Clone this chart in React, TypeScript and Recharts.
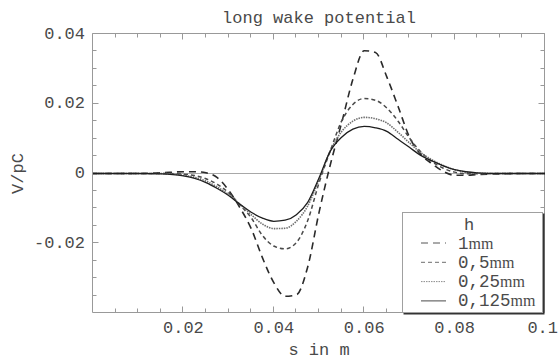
import React from 'react';
import { LineChart, Line, XAxis, YAxis, ReferenceLine, ReferenceArea, Label } from 'recharts';

const sValues = [0, 0.005, 0.01, 0.015, 0.02, 0.0225, 0.025, 0.0275, 0.03, 0.0325, 0.035, 0.0375, 0.04, 0.0425, 0.045, 0.0475, 0.05, 0.0525, 0.055, 0.0575, 0.06, 0.0625, 0.065, 0.0675, 0.07, 0.0725, 0.075, 0.0775, 0.08, 0.0825, 0.085, 0.09, 0.095, 0.1];
const h1mm = [0, 0, 0, 0.0002, 0.0005, 0.0005, 0.0002, -0.0012, -0.0048, -0.0098, -0.0158, -0.0242, -0.0313, -0.0352, -0.0348, -0.0268, -0.0112, 0.0025, 0.0145, 0.0270, 0.0352, 0.0347, 0.0277, 0.0192, 0.0105, 0.0055, 0.0028, 0.0006, -0.0005, -0.0005, -0.0003, -0.0001, 0, 0];
const h05mm = [0, 0, 0, 0, -0.0002, -0.0006, -0.0015, -0.0031, -0.0055, -0.0090, -0.0127, -0.0178, -0.0208, -0.0216, -0.0198, -0.0135, -0.0027, 0.0065, 0.0150, 0.0198, 0.0215, 0.0210, 0.0188, 0.0150, 0.0102, 0.0062, 0.0034, 0.0015, 0.0004, -0.0001, -0.0001, 0, 0, 0];
const h025mm = [0, 0, 0, 0, -0.0005, -0.0011, -0.0022, -0.0039, -0.0060, -0.0088, -0.0118, -0.0145, -0.0158, -0.0157, -0.0137, -0.0093, -0.0018, 0.0065, 0.0120, 0.0150, 0.0161, 0.0157, 0.0145, 0.0118, 0.0088, 0.0060, 0.0039, 0.0023, 0.0011, 0.0004, 0.0001, 0, 0, 0];
const h0125mm = [0, 0, 0, -0.0001, -0.0007, -0.0014, -0.0026, -0.0043, -0.0063, -0.0088, -0.0111, -0.0128, -0.0137, -0.0134, -0.0118, -0.0083, -0.0013, 0.0064, 0.0104, 0.0127, 0.0135, 0.0131, 0.0121, 0.0098, 0.0075, 0.0052, 0.0036, 0.0022, 0.0011, 0.0005, 0.0002, 0, 0, 0];

const seriesKeys = ['h1', 'h05', 'h025', 'h0125'];
const seriesNumbers = ['1', '0,5', '0,25', '0,125'];
const seriesUnit = 'mm';
const legendTitle = 'h';

const xDomain = [0, 0.1];
const yDomain = [-0.04, 0.04];
const xMajorTicks = [0.02, 0.04, 0.06, 0.08, 0.1];
const xTickLabels = ['0.02', '0.04', '0.06', '0.08', '0.1'];
const xAllTicks = [0.005, 0.01, 0.015, 0.02, 0.025, 0.03, 0.035, 0.04, 0.045, 0.05, 0.055, 0.06, 0.065, 0.07, 0.075, 0.08, 0.085, 0.09, 0.095, 0.1];
const yMajorTicks = [-0.02, 0, 0.02, 0.04];
const yTickLabels = ['-0.02', '0', '0.02', '0.04'];
const yAllTicks = [-0.035, -0.03, -0.025, -0.02, -0.015, -0.01, -0.005, 0, 0.005, 0.01, 0.015, 0.02, 0.025, 0.03, 0.035, 0.04];

const titleText = 'long wake potential';
const xLabelText = 's in m';
const yLabelText = 'V/pC';

const data = sValues.map((s, i) => ({
  s,
  h1: h1mm[i],
  h05: h05mm[i],
  h025: h025mm[i],
  h0125: h0125mm[i],
}));

const styles = [
  { stroke: '#2a2a2a', dash: '7 5', width: 1.6 },
  { stroke: '#4a4a4a', dash: '4 3', width: 1.5 },
  { stroke: '#707070', dash: '1.5 1', width: 1.6 },
  { stroke: '#1e1e1e', dash: undefined as string | undefined, width: 1.3 },
];

const MONO = '"Liberation Mono", "DejaVu Sans Mono", monospace';
const SERIF = '"Liberation Serif", "DejaVu Serif", serif';
const TXT = '#4a4a4a';
const FRAME = '#999999';
const FS = 17;
const CHART_W = 559;

const isMajor = (v: number, majors: number[]) => majors.some((m) => Math.abs(m - v) < 1e-9);
const findLabel = (v: number, majors: number[], labels: string[]) => {
  const i = majors.findIndex((m) => Math.abs(m - v) < 1e-9);
  return i >= 0 ? labels[i] : null;
};
const crisp = (v: number) => Math.round(v) + 0.5;

const LeftTick = (props: any) => {
  const { x, y, payload } = props;
  const lab = findLabel(payload.value, yMajorTicks, yTickLabels);
  return lab !== null ? (
    <text x={x - 8} y={y} textAnchor="end" dominantBaseline="central" fontFamily={MONO} fontSize={FS} fill={TXT}>
      {lab}
    </text>
  ) : (
    <g />
  );
};

const BottomTick = (props: any) => {
  const { x, y, payload } = props;
  const lab = findLabel(payload.value, xMajorTicks, xTickLabels);
  if (lab === null) return <g />;
  const halfW = (lab.length * FS * 0.6) / 2;
  const tx = Math.min(x, CHART_W - halfW - 1);
  return (
    <text x={tx} y={y + 15} textAnchor="middle" dominantBaseline="central" fontFamily={MONO} fontSize={FS} fill={TXT}>
      {lab}
    </text>
  );
};

// Frame, ticks on all four sides and the title, drawn from the plot area's viewBox
const FrameContent = (p: any) => {
  const vb = p.viewBox;
  if (!vb) return null;
  const left = vb.x;
  const top = vb.y;
  const w = vb.width;
  const h = vb.height;
  const sx = (v: number) => left + ((v - xDomain[0]) / (xDomain[1] - xDomain[0])) * w;
  const sy = (v: number) => top + ((yDomain[1] - v) / (yDomain[1] - yDomain[0])) * h;
  const L = crisp(left) - 1;
  const R = crisp(left + w) - 1;
  const T = crisp(top) - 1;
  const B = crisp(top + h) - 1;
  const marks: any[] = [];
  xAllTicks.forEach((v) => {
    const len = isMajor(v, xMajorTicks) ? 6 : 4;
    const x = crisp(sx(v)) - 1;
    marks.push(<line key={'b' + v} x1={x} y1={B} x2={x} y2={B - len} stroke={FRAME} strokeWidth={1} />);
    marks.push(<line key={'t' + v} x1={x} y1={T} x2={x} y2={T + len} stroke={FRAME} strokeWidth={1} />);
  });
  yAllTicks.forEach((v) => {
    const len = isMajor(v, yMajorTicks) ? 6 : 4;
    const y = crisp(sy(v)) - 1;
    marks.push(<line key={'l' + v} x1={L} y1={y} x2={L + len} y2={y} stroke={FRAME} strokeWidth={1} />);
    marks.push(<line key={'r' + v} x1={R} y1={y} x2={R - len} y2={y} stroke={FRAME} strokeWidth={1} />);
  });
  return (
    <g>
      <path d={`M${L},${T}H${R}V${B}H${L}Z`} fill="none" stroke={FRAME} strokeWidth={1} />
      {marks}
      <text x={left + w / 2} y={top - 16} textAnchor="middle" dominantBaseline="central" fontFamily={MONO} fontSize={FS} fill={TXT}>
        {titleText}
      </text>
    </g>
  );
};

const LegendBox = () => (
  <div
    style={{
      position: 'absolute',
      left: 402,
      top: 212,
      width: 139,
      height: 99,
      background: '#fff',
      border: '1px solid #a0a0a0',
      boxShadow: '1.5px 1.5px 0 #333',
    }}
  >
    <svg width={139} height={99} style={{ display: 'block' }}>
      <text x={66} y={17} textAnchor="middle" fontFamily={MONO} fontSize={17} fill={TXT}>
        {legendTitle}
      </text>
      {seriesNumbers.map((n, i) => {
        const cy = 30 + i * 19.3;
        const st = styles[i];
        return (
          <g key={n}>
            <line x1={18} y1={cy} x2={43} y2={cy} stroke={st.stroke} strokeWidth={1} strokeDasharray={st.dash} opacity={0.8} />
            <text x={55} y={cy + 5.5} fill={TXT}>
              <tspan fontFamily={MONO} fontSize={17.5}>{n}</tspan>
              <tspan fontFamily={SERIF} fontSize={16}>{seriesUnit}</tspan>
            </text>
          </g>
        );
      })}
    </svg>
  </div>
);

export default function App() {
  return (
    <div style={{ position: 'absolute', left: 0, top: 0, width: 559, height: 359, background: '#fff' }}>
      <LineChart width={CHART_W} height={359} data={data} margin={{ top: 34, right: 14, bottom: 0, left: 0 }}>
        <XAxis
          dataKey="s"
          type="number"
          domain={xDomain}
          ticks={xAllTicks}
          interval={0}
          tick={<BottomTick />}
          tickSize={0}
          tickMargin={0}
          tickLine={false}
          axisLine={false}
          height={46}
        >
          <Label
            content={(p: any) => {
              const vb = p.viewBox;
              return (
                <text x={vb.x + vb.width / 2} y={vb.y + 37} textAnchor="middle" dominantBaseline="central" fontFamily={MONO} fontSize={FS} fill={TXT}>
                  {xLabelText}
                </text>
              );
            }}
          />
        </XAxis>
        <YAxis
          type="number"
          domain={yDomain}
          ticks={yAllTicks}
          interval={0}
          tick={<LeftTick />}
          tickSize={0}
          tickMargin={0}
          tickLine={false}
          axisLine={false}
          width={93}
        >
          <Label
            content={(p: any) => {
              const vb = p.viewBox;
              const cx = vb.x + 18;
              const cy = vb.y + vb.height / 2;
              return (
                <text x={cx} y={cy} transform={`rotate(-90 ${cx} ${cy})`} textAnchor="middle" dominantBaseline="central" fontFamily={MONO} fontSize={FS} fill={TXT}>
                  {yLabelText}
                </text>
              );
            }}
          />
        </YAxis>
        <ReferenceArea x1={xDomain[0]} x2={xDomain[1]} y1={yDomain[0]} y2={yDomain[1]} fill="#fff" fillOpacity={0} stroke="none">
          <Label content={FrameContent} />
        </ReferenceArea>
        <ReferenceLine y={0} stroke="#a8a8a8" strokeWidth={1} />
        {seriesKeys.map((k, i) => (
          <Line
            key={k}
            type="monotone"
            dataKey={k}
            name={seriesNumbers[i] + seriesUnit}
            stroke={styles[i].stroke}
            strokeWidth={styles[i].width}
            strokeDasharray={styles[i].dash}
            dot={false}
            activeDot={false}
            isAnimationActive={false}
          />
        ))}
      </LineChart>
      <LegendBox />
    </div>
  );
}
